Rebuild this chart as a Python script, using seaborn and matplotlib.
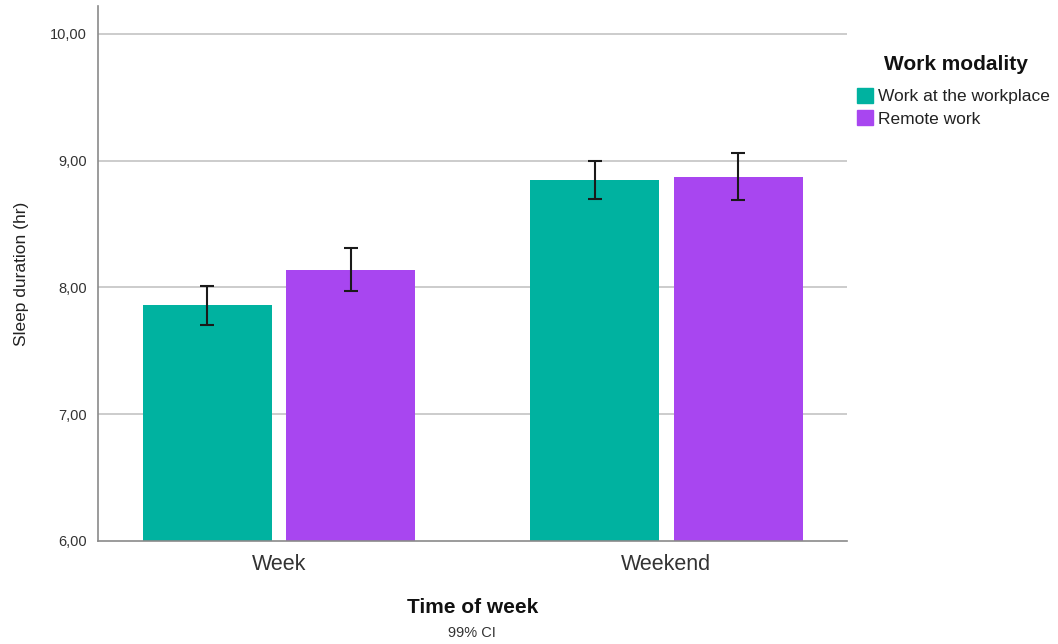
import matplotlib
matplotlib.use("Agg")
import matplotlib.pyplot as plt
from matplotlib.patches import Patch
from matplotlib.ticker import FuncFormatter
import numpy as np
import pandas as pd
import seaborn as sns

# Mean sleep duration with 99% confidence interval bounds
time_of_week = ["Week", "Weekend"]
modalities = ["Work at the workplace", "Remote work"]
mean_workplace = [7.86, 8.85]
mean_remote = [8.14, 8.87]
ci_low_workplace = [7.70, 8.70]
ci_high_workplace = [8.01, 9.00]
ci_low_remote = [7.97, 8.69]
ci_high_remote = [8.31, 9.06]

colors = ["#00B2A0", "#A846F0"]

df = pd.DataFrame({
    "Time of week": time_of_week * 2,
    "Work modality": [modalities[0]] * 2 + [modalities[1]] * 2,
    "Sleep": mean_workplace + mean_remote,
})

sns.set_style("white")
plt.rcParams["font.family"] = ["Liberation Sans", "DejaVu Sans"]

fig = plt.figure(figsize=(10.58, 6.44), dpi=100)
ax = fig.add_axes([98 / 1058, 1 - 541 / 644, (847 - 98) / 1058, (541 - 6) / 644])

sns.barplot(data=df, x="Time of week", y="Sleep", hue="Work modality",
            hue_order=modalities, order=time_of_week, palette=colors,
            width=0.74, gap=0.1, errorbar=None, saturation=1, ax=ax,
            linewidth=0, zorder=2)

lows = [ci_low_workplace, ci_low_remote]
highs = [ci_high_workplace, ci_high_remote]
means = [mean_workplace, mean_remote]
for cont, lo, hi, m in zip(ax.containers, lows, highs, means):
    xs = [b.get_x() + b.get_width() / 2 for b in cont]
    m = np.array(m)
    yerr = np.vstack([m - np.array(lo), np.array(hi) - m])
    ax.errorbar(xs, m, yerr=yerr, fmt="none", ecolor="#1a1a1a",
                elinewidth=1.5, capsize=5, capthick=1.5, zorder=4)

ax.set_xlim(-0.467, 1.466)
ax.set_ylim(6, 10.22)
ax.set_yticks([6, 7, 8, 9, 10])
ax.yaxis.set_major_formatter(FuncFormatter(lambda v, p: f"{v:.2f}".replace(".", ",")))
for y in [7, 8, 9, 10]:
    ax.axhline(y, color="#c4c4c4", lw=1.2, zorder=1)

for side in ["top", "right"]:
    ax.spines[side].set_visible(False)
for side in ["left", "bottom"]:
    ax.spines[side].set_color("#8a8a8a")
    ax.spines[side].set_linewidth(1.2)

ax.tick_params(axis="both", length=0)
ax.tick_params(axis="y", labelsize=10.5, colors="#333333", pad=8)
ax.tick_params(axis="x", labelsize=15.5, colors="#333333", pad=9)

ax.set_ylabel("Sleep duration (hr)", fontsize=12.5, color="#222222", labelpad=15)
ax.set_xlabel("Time of week", fontsize=15, fontweight="bold", color="#111111", labelpad=17)
fig.text(472 / 1058, 1 - 633 / 644, "99% CI", ha="center", va="center",
         fontsize=10.5, color="#333333")

# Legend: title drawn as its own text above the entries
fig.text(956 / 1058, 1 - 64 / 644, "Work modality", ha="center", va="center",
         fontsize=15, fontweight="bold", color="#111111")
handles = [Patch(facecolor=c, edgecolor=c) for c in colors]
if ax.get_legend() is not None:
    ax.get_legend().remove()
leg = fig.legend(handles, modalities, loc="upper left",
                 bbox_to_anchor=(857 / 1058, 1 - 88 / 644), frameon=False,
                 fontsize=12.5, handlelength=0.95, handleheight=0.95,
                 handletextpad=0.25, labelspacing=0.33, borderpad=0,
                 borderaxespad=0)
for t in leg.get_texts():
    t.set_color("#222222")

fig.savefig("out.png", dpi=100)
